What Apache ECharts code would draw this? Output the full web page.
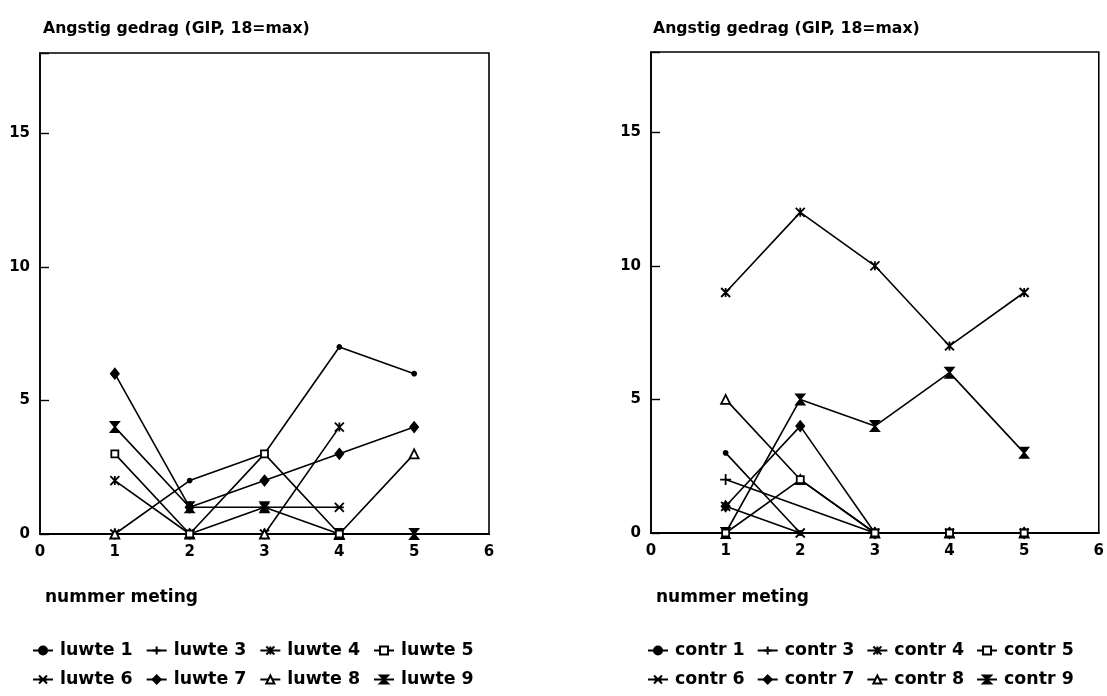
<!DOCTYPE html>
<html>
<head>
<meta charset="utf-8">
<script src="https://cdn.jsdelivr.net/npm/echarts@6/dist/echarts.min.js"></script>
<style>
  html, body { margin: 0; padding: 0; background: #fff; }
  #chart { width: 1107px; height: 696px; }
</style>
</head>
<body>
<div id="chart"></div>
<script>
// Measurement occasions (x axis)
const meting = [1, 2, 3, 4, 5];
const xTicks = [0, 1, 2, 3, 4, 5, 6];
const yTicks = [0, 5, 10, 15];

// Left panel: luwte group
const luwteNames = ['luwte 1', 'luwte 3', 'luwte 4', 'luwte 5', 'luwte 6', 'luwte 7', 'luwte 8', 'luwte 9'];
const luwte1 = [0, 2, 3, 7, 6];
const luwte3 = [0, 0, 0, 0, 0];
const luwte4 = [2, 0, 0, 4, null];
const luwte5 = [3, 0, 3, 0, null];
const luwte6 = [0, 0, 1, 1, null];
const luwte7 = [6, 1, 2, 3, 4];
const luwte8 = [0, 0, 0, 0, 3];
const luwte9 = [4, 1, 1, 0, 0];

// Right panel: control group
const contrNames = ['contr 1', 'contr 3', 'contr 4', 'contr 5', 'contr 6', 'contr 7', 'contr 8', 'contr 9'];
const contr1 = [3, 0, 0, 0, 0];
const contr3 = [2, null, 0, 0, 0];
const contr4 = [9, 12, 10, 7, 9];
const contr5 = [0, 2, 0, 0, 0];
const contr6 = [1, 0, 0, 0, 0];
const contr7 = [1, 4, 0, 0, 0];
const contr8 = [5, 2, 0, 0, 0];
const contr9 = [0, 5, 4, 6, 3];

const titleText = 'Angstig gedrag (GIP, 18=max)';
const xName = 'nummer meting';

const FONT = '"DejaVu Sans", sans-serif';

// Marker shapes, one per subject slot
const markers = [
  { symbol: 'circle', size: 4, fill: '#000' },                                   // 1
  { symbol: 'path://M5,0L5,10M0,5L10,5', size: 11, fill: '#000' },              // 3  +
  { symbol: 'path://M0,0L10,10M10,0L0,10M5,0L5,10', size: 9, fill: '#000' },    // 4  asterisk
  { symbol: 'rect', size: 7, fill: '#fff' },                                      // 5  open square
  { symbol: 'path://M0,0L10,10M10,0L0,10M0,5L10,5', size: 9, fill: '#000' },    // 6  x with bar
  { symbol: 'diamond', size: [8, 10], fill: '#000' },                             // 7  diamond
  { symbol: 'triangle', size: 9, fill: '#fff' },                                  // 8  open triangle
  { symbol: 'path://M0,0L10,0L0,10L10,10Z', size: [8, 10], fill: '#000' }       // 9  hourglass
];

function makeSeries(name, values, idx, axisIdx, connect) {
  const m = markers[idx];
  return {
    type: 'line',
    name: name,
    xAxisIndex: axisIdx,
    yAxisIndex: axisIdx,
    data: meting.map((x, i) => [x, values[i] === null ? '-' : values[i]]),
    connectNulls: !!connect,
    symbol: m.symbol,
    symbolSize: m.size,
    showSymbol: true,
    lineStyle: { color: '#000', width: 1.6 },
    itemStyle: { color: m.fill, borderColor: '#000', borderWidth: 1.8 },
    emphasis: { disabled: true },
    z: idx === 3 ? 4 : 3
  };
}

const luwteVals = [luwte1, luwte3, luwte4, luwte5, luwte6, luwte7, luwte8, luwte9];
const contrVals = [contr1, contr3, contr4, contr5, contr6, contr7, contr8, contr9];

const series = [];
luwteNames.forEach((n, i) => series.push(makeSeries(n, luwteVals[i], i, 0, false)));
contrNames.forEach((n, i) => series.push(makeSeries(n, contrVals[i], i, 1, n === 'contr 3')));

const labelStyle = { color: '#000', fontFamily: FONT, fontWeight: 'bold', fontSize: 15 };

function xAxis(gi) {
  return {
    type: 'value', gridIndex: gi, min: xTicks[0], max: xTicks[xTicks.length - 1], interval: 1,
    axisLine: { show: true, lineStyle: { color: '#000', width: 2 } },
    axisTick: { show: false },
    splitLine: { show: false },
    axisLabel: Object.assign({ margin: 11 }, labelStyle)
  };
}
function yAxis(gi) {
  return {
    type: 'value', gridIndex: gi, min: 0, max: 18, interval: 5,
    axisLine: { show: true, lineStyle: { color: '#000', width: 1.6 } },
    axisTick: { show: true, inside: true, length: 9, lineStyle: { color: '#000', width: 1.4 } },
    splitLine: { show: false },
    axisLabel: Object.assign({ margin: 10, formatter: v => (yTicks.indexOf(v) >= 0 ? String(v) : '') }, labelStyle)
  };
}

const legendText = { color: '#000', fontFamily: FONT, fontWeight: 'bold', fontSize: 17.4, padding: [0, 0, 0, 2] };
function legend(names, left, top, gap) {
  return {
    data: names, left: left, top: top, orient: 'horizontal',
    itemWidth: 20, itemHeight: 10, itemGap: gap, padding: 0,
    selectedMode: false, textStyle: legendText
  };
}

const titleStyle = { color: '#000', fontFamily: FONT, fontWeight: 'bold', fontSize: 15.7 };
const xNameStyle = { color: '#000', fontFamily: FONT, fontWeight: 'bold', fontSize: 17 };

const option = {
  animation: false,
  backgroundColor: '#fff',
  title: [
    { text: titleText, left: 38, top: 16, textStyle: titleStyle },
    { text: titleText, left: 648, top: 16, textStyle: titleStyle },
    { text: xName, left: 40, top: 584, textStyle: xNameStyle },
    { text: xName, left: 651, top: 584, textStyle: xNameStyle }
  ],
  grid: [
    { left: 40, top: 53, width: 449, height: 481, show: true, borderColor: '#000', borderWidth: 1.6, backgroundColor: 'transparent' },
    { left: 651, top: 52, width: 449, height: 481, show: true, borderColor: '#000', borderWidth: 1.6, backgroundColor: 'transparent' }
  ],
  xAxis: [xAxis(0), xAxis(1)],
  yAxis: [yAxis(0), yAxis(1)],
  legend: [
    legend(luwteNames.slice(0, 4), 32, 642, 13),
    legend(luwteNames.slice(4), 32, 671, 13),
    legend(contrNames.slice(0, 4), 647, 642, 12),
    legend(contrNames.slice(4), 647, 671, 12)
  ],
  series: series
};

const chart = echarts.init(document.getElementById('chart'), null, { renderer: 'canvas' });
chart.setOption(option);
</script>
</body>
</html>
